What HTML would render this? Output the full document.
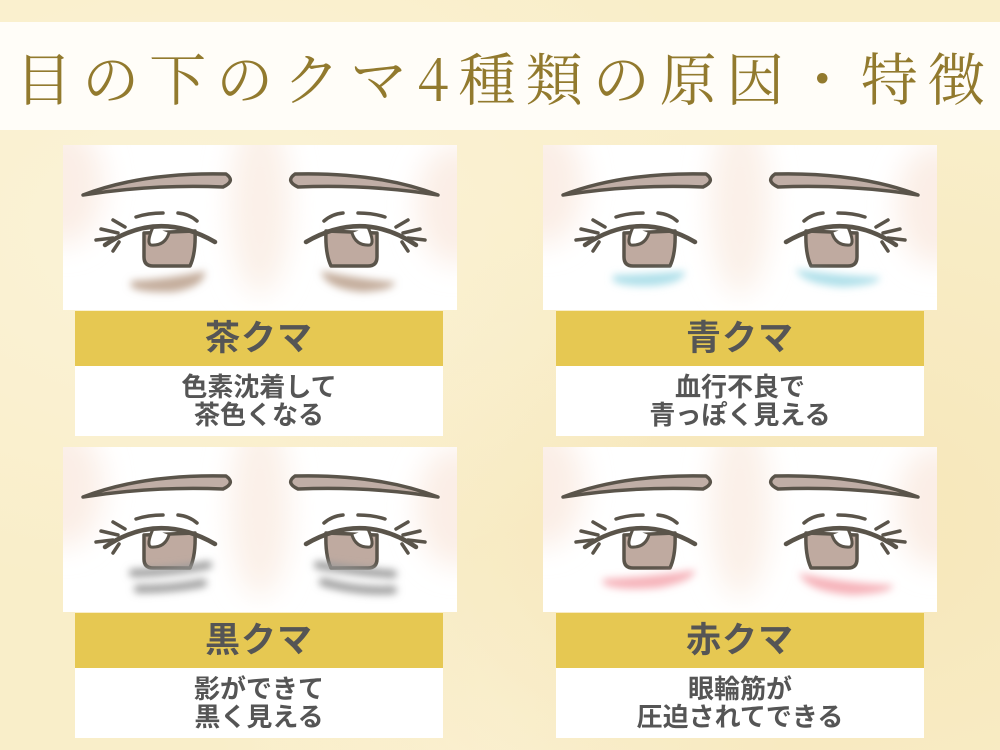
<!DOCTYPE html>
<html><head><meta charset="utf-8"><style>
*{margin:0;padding:0;box-sizing:border-box}
body{width:1000px;height:750px;overflow:hidden;background:#f9eec9;position:relative;font-family:"Liberation Sans","Noto Sans CJK JP",sans-serif}
.bg{position:absolute;inset:0;background:radial-gradient(ellipse at 20% 30%,#fbf3d8 0,transparent 50%),radial-gradient(ellipse at 80% 70%,#f6e6b8 0,transparent 55%),radial-gradient(ellipse at 50% 95%,#fbf2d6 0,transparent 40%)}
.title{position:absolute;left:0;top:22px;width:1000px;height:108px;background:#fffdf8;color:#927a2e;font-family:"Noto Serif CJK JP","Noto Serif CJK SC",serif;font-size:57px;line-height:108px;text-align:center;letter-spacing:10px;padding-left:10px}
.img{position:absolute;width:394px;height:165px}
.bar{position:absolute;width:368px;height:55px;background:#e6c852;color:#555;font-weight:bold;font-size:35px;line-height:55px;text-align:center;letter-spacing:1px}
.txt{position:absolute;width:368px;height:70px;background:#fff;color:#555;font-weight:bold;font-size:26px;line-height:28px;text-align:center;padding-top:7px}
</style></head><body>
<div class="bg"></div>
<div class="title">目の下のクマ4種類の原因・特徴</div>
<svg width="0" height="0" style="position:absolute">
<defs>
<filter id="bl" x="-50%" y="-200%" width="200%" height="500%"><feGaussianBlur stdDeviation="4"/></filter>
<filter id="bl2" x="-50%" y="-50%" width="200%" height="200%"><feGaussianBlur stdDeviation="14"/></filter>
<g id="half" stroke="#5a544a" stroke-linecap="round" stroke-linejoin="round">
<path d="M20,50 Q80,27 163,29 Q173,36 160,42 Q90,39 20,50Z" fill="#c0aea6" stroke-width="3.5"/>
<path d="M81,88 L81,112 Q81,121 90,121 L127,121 Q133,108 132,86Z" fill="#bfaaa0" stroke-width="3.5"/>
<path d="M90,82 Q83,98 88,100 Q102,101 106,88" fill="#fff" stroke-width="3"/>
<path d="M42,100 Q95,64 152,97" fill="none" stroke-width="4.5"/>
<path d="M55,88 L38,84 M50,93 L33,95 M56,97 L50,106 M62,82 L50,75" fill="none" stroke-width="3.5"/>
<path d="M73,72 Q85,68 100,68 M115,68 Q126,69 134,76" fill="none" stroke-width="3.5"/>
</g>
<g id="face">
<rect width="394" height="165" fill="#fff"/>
<ellipse cx="197" cy="60" rx="30" ry="90" fill="#fbf0e8" filter="url(#bl2)"/>
<ellipse cx="0" cy="40" rx="40" ry="60" fill="#fbeee6" filter="url(#bl2)"/>
<ellipse cx="394" cy="60" rx="40" ry="60" fill="#fbeee6" filter="url(#bl2)"/>
<use href="#half"/>
<use href="#half" transform="translate(395,0) scale(-1,1)"/>
</g>
</defs></svg>

<svg class="img" style="left:63px;top:145px" viewBox="0 0 394 165"><use href="#face"/>
<g fill="#c4ad9c" filter="url(#bl)"><path d="M68,136 Q105,134 142,126 Q142,142 110,147 Q78,148 68,142Z"/><path d="M258,126 Q295,134 332,137 Q332,145 300,147 Q262,144 258,126Z"/></g></svg>
<div class="bar" style="left:75px;top:311px">茶クマ</div>
<div class="txt" style="left:75px;top:366px">色素沈着して<br>茶色くなる</div>

<svg class="img" style="left:543px;top:145px" viewBox="0 0 394 165"><use href="#face"/>
<g fill="#b0e0ea" filter="url(#bl)"><path d="M70,130 Q105,129 142,126 Q142,138 110,141 Q80,142 70,136Z"/><path d="M253,124 Q290,130 337,132 Q337,140 300,142 Q258,139 253,124Z"/></g></svg>
<div class="bar" style="left:556px;top:311px">青クマ</div>
<div class="txt" style="left:556px;top:366px">血行不良で<br>青っぽく見える</div>

<svg class="img" style="left:63px;top:447px" viewBox="0 0 394 165"><use href="#face"/>
<g fill="none" stroke="#9a9a9a" stroke-width="8" filter="url(#bl)" stroke-linecap="round"><path d="M70,126 Q110,125 145,118"/><path d="M75,142 Q110,142 140,136"/><path d="M255,118 Q295,125 330,127"/><path d="M260,135 Q295,145 330,143"/></g></svg>
<div class="bar" style="left:75px;top:613px">黒クマ</div>
<div class="txt" style="left:75px;top:668px">影ができて<br>黒く見える</div>

<svg class="img" style="left:543px;top:447px" viewBox="0 0 394 165"><use href="#face"/>
<g fill="#f6b3ba" filter="url(#bl)"><path d="M60,132 Q105,130 152,123 Q152,134 115,141 Q73,144 60,137Z"/><path d="M256,126 Q300,136 350,138 Q350,146 310,148 Q263,145 256,126Z"/></g></svg>
<div class="bar" style="left:556px;top:613px">赤クマ</div>
<div class="txt" style="left:556px;top:668px">眼輪筋が<br>圧迫されてできる</div>
</body></html>
